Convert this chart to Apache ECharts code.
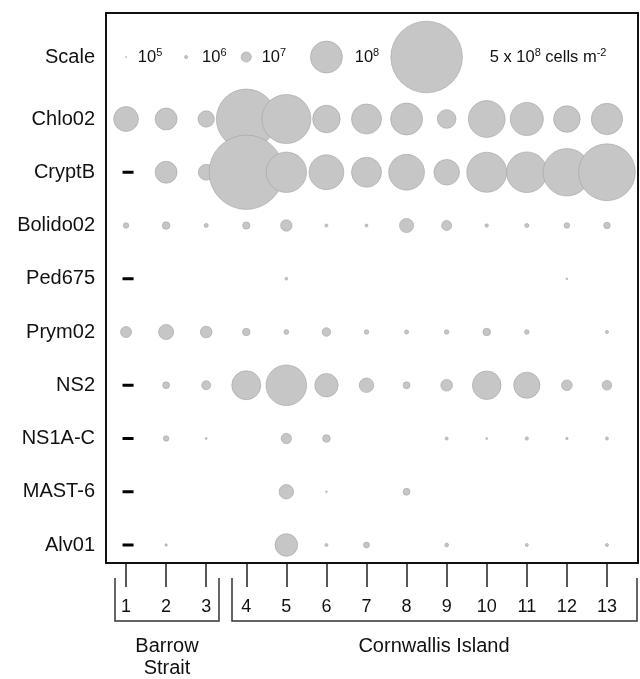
<!DOCTYPE html>
<html><head><meta charset="utf-8">
<script src="https://cdn.jsdelivr.net/npm/echarts@6/dist/echarts.min.js"></script>
<style>html,body{margin:0;padding:0;background:#fff}#c{width:640px;height:679px}</style>
</head><body><div id="c"></div>
<script>
// Sites (x categories) and taxa (rows)
const sites = ['1','2','3','4','5','6','7','8','9','10','11','12','13'];
const taxa = ['Chlo02','CryptB','Bolido02','Ped675','Prym02','NS2','NS1A-C','MAST-6','Alv01'];

// Abundance, cells m^-2 ; 0 = no bubble, '-' = not determined (dash)
const chlo02   = [6.0e7, 4.7e7, 2.6e7, 3.5e8, 2.35e8, 7.4e7, 8.8e7, 1.0e8, 3.4e7, 1.32e8, 1.07e8, 6.9e7, 9.6e7];
const cryptB   = ['-',   4.7e7, 2.45e7, 5.4e8, 1.59e8, 1.18e8, 8.8e7, 1.25e8, 6.4e7, 1.56e8, 1.61e8, 2.2e8, 3.15e8];
const bolido02 = [3.0e6, 5.6e6, 1.65e6, 5.1e6, 1.27e7, 9.4e5, 8.0e5, 1.94e7, 9.8e6, 1.1e6, 1.65e6, 3.0e6, 4.1e6];
const ped675   = ['-',   0, 0, 0, 7.4e5, 0, 0, 0, 0, 0, 0, 2.8e5, 0];
const prym02   = [1.18e7, 2.25e7, 1.34e7, 5.6e6, 2.25e6, 7.2e6, 2.0e6, 1.65e6, 2.0e6, 5.6e6, 2.0e6, 0, 9.4e5];
const ns2      = ['-',   4.6e6, 7.9e6, 8.2e7, 1.61e8, 5.35e7, 2.05e7, 4.6e6, 1.34e7, 8.0e7, 6.7e7, 1.12e7, 9.0e6];
const ns1ac    = ['-',   3.0e6, 4.0e5, 0, 1.04e7, 5.6e6, 0, 0, 9.4e5, 4.0e5, 1.1e6, 5.6e5, 9.4e5];
const mast6    = ['-',   0, 0, 0, 2.05e7, 2.8e5, 0, 4.6e6, 0, 0, 0, 0, 0];
const alv01    = ['-',   5.6e5, 0, 0, 5.0e7, 9.4e5, 3.4e6, 0, 1.4e6, 0, 9.4e5, 0, 9.4e5];

// Scale legend
const scaleValues = [1e5, 1e6, 1e7, 1e8, 5e8];
const scaleLabels = ['10{s|5}', '10{s|6}', '10{s|7}', '10{s|8}', '5 x 10{s|8} cells m{s|-2}'];

// Layout (not data)
const scaleSlots = [1, 2.5, 4, 6, 8.5];
const scaleLabelGap = [11, 14, 10, 12, 27];
const FONT = '"Liberation Sans", Arial, sans-serif';

const rowsData = [chlo02, cryptB, bolido02, ped675, prym02, ns2, ns1ac, mast6, alv01];
const diam = v => 32 * Math.sqrt(v / 1e8);

const bubbles = [], dashes = [];
rowsData.forEach((arr, r) => arr.forEach((v, c) => {
  if (v === '-') dashes.push([c, r]);
  else if (v > 0) bubbles.push([c, r, v]);
}));

const bubbleStyle = { color: '#c6c6c6', borderColor: '#a2a2a2', borderWidth: 0.6, opacity: 1 };

const chart = echarts.init(document.getElementById('c'), null, { renderer: 'canvas' });
chart.setOption({
  animation: false,
  backgroundColor: '#fff',
  textStyle: { fontFamily: FONT },
  grid: [
    { left: 106, width: 521, top: 13, height: 88 },
    { left: 106, width: 521, top: 119, height: 426 }
  ],
  xAxis: [
    { gridIndex: 0, type: 'value', min: 0.5, max: 13.5, show: false },
    { gridIndex: 1, type: 'category', data: sites, boundaryGap: true, offset: 18,
      axisLine: { show: false },
      axisTick: { show: true, alignWithLabel: true, length: 24, lineStyle: { color: '#222', width: 1.5 } },
      axisLabel: { margin: 35, fontSize: 18, color: '#111', fontFamily: FONT, interval: 0 },
      splitLine: { show: false } }
  ],
  yAxis: [
    { gridIndex: 0, type: 'category', data: ['Scale'],
      axisLine: { show: false }, axisTick: { show: false }, splitLine: { show: false },
      axisLabel: { margin: 11, fontSize: 20, color: '#111', fontFamily: FONT } },
    { gridIndex: 1, type: 'category', data: taxa, inverse: true, boundaryGap: false,
      axisLine: { show: false }, axisTick: { show: false }, splitLine: { show: false },
      axisLabel: { margin: 11, fontSize: 20, color: '#111', fontFamily: FONT, interval: 0 } }
  ],
  series: [
    { type: 'scatter', xAxisIndex: 0, yAxisIndex: 0, clip: false, silent: true,
      data: scaleValues.map((v, i) => ({ value: [scaleSlots[i], 0, v], label: { distance: scaleLabelGap[i] } })),
      symbolSize: d => diam(d[2]),
      itemStyle: bubbleStyle,
      label: { show: true, position: 'right', formatter: p => scaleLabels[p.dataIndex],
        fontSize: 16.5, lineHeight: 20, color: '#111', fontFamily: FONT,
        rich: { s: { fontSize: 11, verticalAlign: 'top', lineHeight: 12, color: '#111', fontFamily: FONT } } } },
    { type: 'scatter', xAxisIndex: 1, yAxisIndex: 1, clip: false, silent: true,
      data: bubbles, symbolSize: d => diam(d[2]), itemStyle: bubbleStyle },
    { type: 'scatter', xAxisIndex: 1, yAxisIndex: 1, clip: false, silent: true,
      data: dashes, symbol: 'rect', symbolSize: [11, 3], symbolOffset: [2, 0],
      itemStyle: { color: '#000', opacity: 1 } }
  ],
  graphic: [
    { type: 'rect', shape: { x: 106, y: 13, width: 532, height: 550 },
      style: { fill: 'none', stroke: '#111', lineWidth: 2 }, z: 1 },
    { type: 'polyline', shape: { points: [[115, 578], [115, 621], [219, 621], [219, 578]] },
      style: { fill: 'none', stroke: '#333', lineWidth: 1.5 } },
    { type: 'polyline', shape: { points: [[232, 578], [232, 621], [637, 621], [637, 578]] },
      style: { fill: 'none', stroke: '#333', lineWidth: 1.5 } },
    { type: 'text', x: 167, y: 657,
      style: { text: 'Barrow\nStrait', font: '20px ' + FONT, fill: '#111', align: 'center', verticalAlign: 'middle', lineHeight: 22 } },
    { type: 'text', x: 434, y: 646,
      style: { text: 'Cornwallis Island', font: '20px ' + FONT, fill: '#111', align: 'center', verticalAlign: 'middle' } }
  ]
});
</script>
</body></html>
